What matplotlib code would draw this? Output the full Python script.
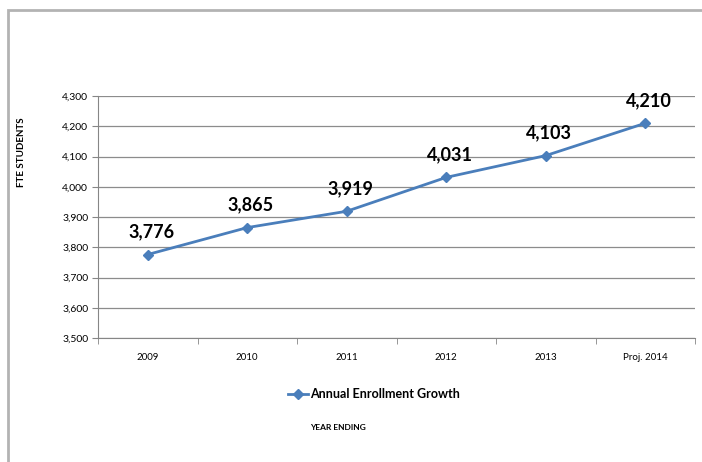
import matplotlib
matplotlib.use("Agg")
import matplotlib.pyplot as plt
from matplotlib.patches import Rectangle
from matplotlib.ticker import FuncFormatter, FixedLocator

categories = ["2009", "2010", "2011", "2012", "2013", "Proj. 2014"]
values = [3776, 3865, 3919, 4031, 4103, 4210]
yticks = [3500, 3600, 3700, 3800, 3900, 4000, 4100, 4200, 4300]
series_name = "Annual Enrollment Growth"

FONT = ["Lato", "DejaVu Sans"]
plt.rcParams["font.family"] = FONT

fig = plt.figure(figsize=(7.02, 4.62), dpi=100)
fig.patches.append(Rectangle((8/702, -0.1), 2.0, 1 - 10/462 + 0.1,
                             transform=fig.transFigure, fill=False,
                             edgecolor="#b3b3b3", linewidth=2))

ax = fig.add_axes([98/702, 1 - 338/462, (695 - 98)/702, (338 - 96)/462])
x = list(range(len(categories)))
line, = ax.plot(x, values, color="#4a7ebb", linewidth=2, marker="D",
                markersize=5.5, label=series_name)
for xi, v in zip(x, values):
    ax.annotate(f"{v:,}", (xi, v), xytext=(2.5, 10), textcoords="offset points",
                ha="center", va="bottom", fontsize=13, fontweight="bold")

ax.set_xlim(-0.5, len(categories) - 0.5)
ax.set_ylim(yticks[0], yticks[-1])
ax.set_yticks(yticks)
ax.yaxis.set_major_formatter(FuncFormatter(lambda v, p: f"{int(v):,}"))
ax.set_xticks(x)
ax.set_xticklabels(categories)
ax.xaxis.set_minor_locator(FixedLocator([i - 0.5 for i in range(len(categories) + 1)]))
ax.tick_params(axis="x", which="major", length=0, labelsize=7, pad=11)
ax.tick_params(axis="x", which="minor", length=4, color="#868686")
ax.tick_params(axis="y", length=4, color="#868686", labelsize=7.5, pad=3)
ax.grid(axis="y", color="#8c8c8c", linewidth=0.9)
ax.set_axisbelow(True)
for s in ["top", "right"]:
    ax.spines[s].set_visible(False)
for s in ["left", "bottom"]:
    ax.spines[s].set_color("#868686")

fig.text(21/702, 1 - 152/462, "FTE STUDENTS", rotation=90, ha="center",
         va="center", fontsize=7, fontweight="bold")
fig.text(338/702, 1 - 427/462, "YEAR ENDING", ha="center", va="center",
         fontsize=6, fontweight="bold")
fig.legend(handles=[line], loc="center", bbox_to_anchor=(374/702, 1 - 394/462),
           frameon=False, handlelength=1.6, handletextpad=0.2,
           prop={"weight": "bold", "size": 9, "family": FONT})

fig.savefig("out.png", dpi=100)
